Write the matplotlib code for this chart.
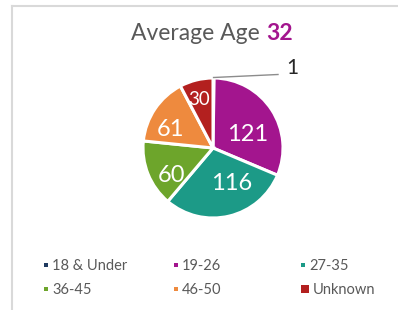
import matplotlib
matplotlib.use("Agg")
import matplotlib.pyplot as plt
import numpy as np
from matplotlib.patches import Rectangle
from matplotlib.lines import Line2D

categories = ["18 & Under", "19-26", "27-35", "36-45", "46-50", "Unknown"]
values = [1, 121, 116, 60, 61, 30]
colors = ["#1F3A60", "#A3158E", "#1C9A87", "#6DA52B", "#EE8A3E", "#B3201F"]
title_text = "Average Age "
title_value = "32"

W, H = 398, 310
fig = plt.figure(figsize=(W / 100, H / 100), dpi=100)
fig.patch.set_facecolor("white")
ax = fig.add_axes([0, 0, 1, 1])

cx, cy, R = 213, H - 148, 70
wedges, _ = ax.pie(values, colors=colors, startangle=90, counterclock=False,
                   center=(cx, cy), radius=R,
                   wedgeprops=dict(edgecolor="white", linewidth=2.2))
ax.set_xlim(0, W)
ax.set_ylim(0, H)
ax.set_aspect("auto")
ax.axis("off")

font = "Lato"
# data labels (radial factor, angle nudge in degrees)
lab_r = [None, 0.53, 0.57, 0.71, 0.66, 0.72]
lab_da = [0, -12, 15, 11, 10, 2]
lab_fs = [None, 17, 17, 17, 17, 13.5]
for i, w in enumerate(wedges):
    mid = (w.theta1 + w.theta2) / 2
    if i == 0:
        a = np.deg2rad(mid)
        x0, y0 = cx + R * np.cos(a), cy + R * np.sin(a)
        ax.plot([x0, 278], [y0 + 0.5, H - 74.5], color="#8C8C8C", lw=1.0)
        ax.text(286, H - 68, str(values[i]), fontsize=15, color="#262626",
                ha="left", va="center", family=font)
        continue
    a = np.deg2rad(mid + lab_da[i])
    r = lab_r[i] * R
    ax.text(cx + r * np.cos(a), cy + r * np.sin(a), str(values[i]),
            fontsize=lab_fs[i], color="white", ha="center", va="center",
            family=font)

# title
t1 = fig.text(0, 0, title_text, fontsize=16.5, color="#595959", family=font,
              ha="left", va="baseline")
t2 = fig.text(0, 0, title_value, fontsize=16.5, color="#A3158E", family=font,
              fontweight="bold", ha="left", va="baseline")
fig.canvas.draw()
r = fig.canvas.get_renderer()
w1 = t1.get_window_extent(r).width
w2 = t2.get_window_extent(r).width
x_start = 212 - (w1 + w2) / 2
t1.set_position((x_start / W, (H - 40) / H))
t2.set_position(((x_start + w1) / W, (H - 40) / H))

# legend
col_x = [46, 176, 303]
row_y = [266, 290]
for i, (c, col) in enumerate(zip(categories, colors)):
    px = col_x[i % 3]
    py = H - row_y[i // 3]
    s = 8 if c == "Unknown" else 4
    ax.add_patch(Rectangle((px - s / 2 + (2 if s == 8 else 0), py - s / 2 + 1), s, s,
                           facecolor=col, edgecolor="none"))
    ax.text(px + (10 if s == 8 else 6), py, c, fontsize=10.5, color="#595959",
            ha="left", va="center", family=font)

# frame
ax.add_line(Line2D([12, 12], [0, H - 5.5], color="#D9D9D9", lw=1.5))
ax.add_line(Line2D([12, W], [H - 5.5, H - 5.5], color="#D9D9D9", lw=1.5))

fig.savefig("out.png", dpi=100, facecolor="white")
